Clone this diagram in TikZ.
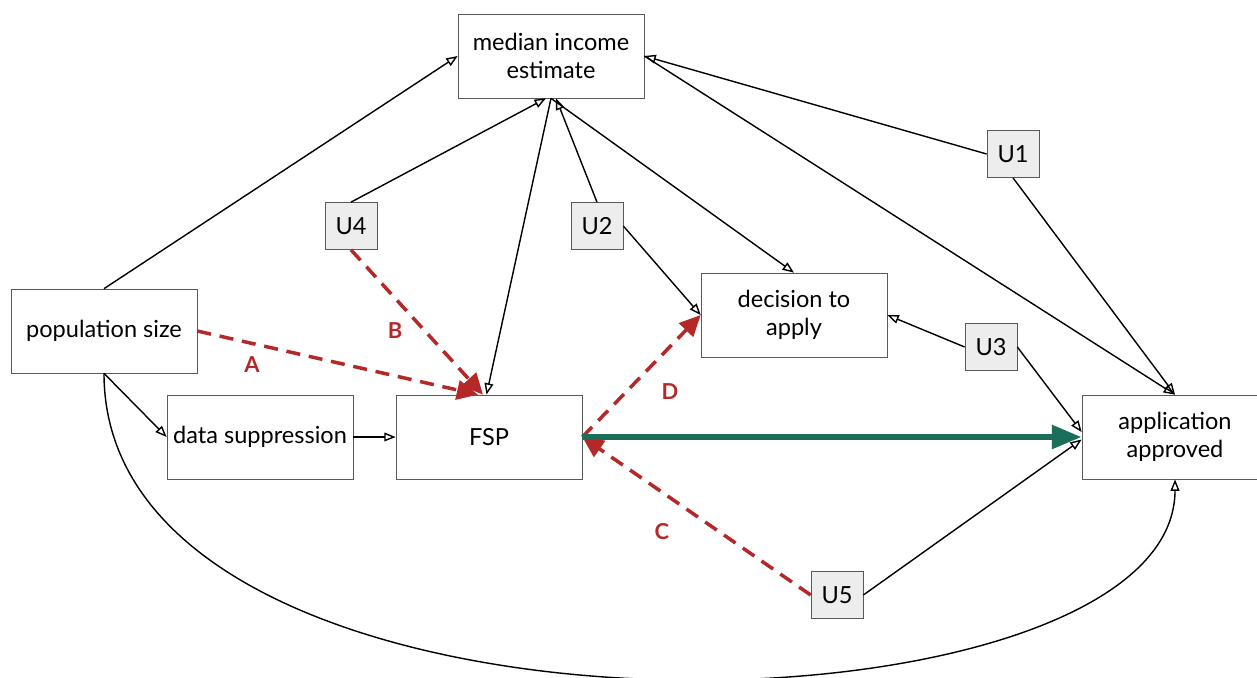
\documentclass[tikz,border=0pt]{standalone}
\usepackage{fontspec}
\setmainfont{Lato}
\usetikzlibrary{arrows.meta}
\definecolor{pathred}{RGB}{180,40,40}
\definecolor{pathgreen}{RGB}{26,110,90}
\begin{document}
\begin{tikzpicture}[
        x=0.02cm, y=-0.02cm,
        font=\fontsize{13.4}{16}\selectfont,
        var/.style={draw=black!65, fill=white, minimum width=3.72cm, minimum height=1.68cm, align=center, inner sep=2pt},
        latent/.style={draw=black!65, fill=black!7, minimum width=1.04cm, minimum height=0.94cm, inner sep=1pt},
        link/.style={-{Triangle[open, length=6.5pt, width=5pt]}, line width=0.8pt, black},
        bias/.style={-{Triangle[length=12pt, width=11pt]}, dash pattern=on 8pt off 5pt, line width=2pt, pathred},
        effect/.style={-{Triangle[length=17pt, width=13pt]}, line width=3.4pt, pathgreen},
        lbl/.style={text=pathred, font=\fontsize{12.5}{15}\selectfont\bfseries}
    ]
        \useasboundingbox (0,0) rectangle (1257,677);

        % Variables
        \node[var] (med) at (551,56) {median income\\estimate};
        \node[var] (pop) at (104,331) {population size};
        \node[var] (sup) at (260,437) {data suppression};
        \node[var] (fsp) at (489,437) {FSP};
        \node[var] (dec) at (794,315) {decision to\\apply};
        \node[var] (app) at (1175,437) {application\\approved};

        % No observadas
        \node[latent] (u1) at (1013,154) {U1};
        \node[latent] (u2) at (597,226) {U2};
        \node[latent] (u3) at (991,347) {U3};
        \node[latent] (u4) at (351,226) {U4};
        \node[latent] (u5) at (837,595) {U5};

        % Flechas
        \draw[link] (pop.north) -- (med.west);
        \draw[link] (u4.north) -- ([xshift=-0.1cm]med.south);
        \draw[link] (med.south) -- ([xshift=-0.05cm]fsp.north);
        \draw[link] (u2.north) -- ([xshift=0.1cm]med.south);
        \draw[link] (med.south) -- (dec.north);
        \draw[link] (u2.east) -- (dec.west);
        \draw[link] (u1.west) -- (med.east);
        \draw[link] (med.east) -- (app.north);
        \draw[link] (u1.south) -- (app.north);
        \draw[link] (u3.west) -- (dec.east);
        \draw[link] (u3.east) -- ([yshift=0.1cm]app.west);
        \draw[link] (u5.east) -- ([yshift=-0.05cm]app.west);
        \draw[link] (pop.south) -- (sup.west);
        \draw[link] (sup.east) -- (fsp.west);
        \draw[link] (pop.south) .. controls +(0,400) and +(0,270) .. (app.south);

        % Caminos
        \draw[bias] (pop.east) -- ([xshift=-0.22cm]fsp.north);
        \draw[bias] (u4.south) -- ([xshift=-0.12cm]fsp.north);
        \draw[bias] (fsp.east) -- (dec.west);
        \draw[bias] (u5.west) -- (fsp.east);
        \draw[effect] (fsp.east) -- (app.west);

        % Etiquetas
        \node[lbl] (la) at (252,365) {A};
        \node[lbl] (lb) at (395,331) {B};
        \node[lbl] (lc) at (662,532) {C};
        \node[lbl] (ld) at (670,392) {D};

    \end{tikzpicture}
\end{document}
